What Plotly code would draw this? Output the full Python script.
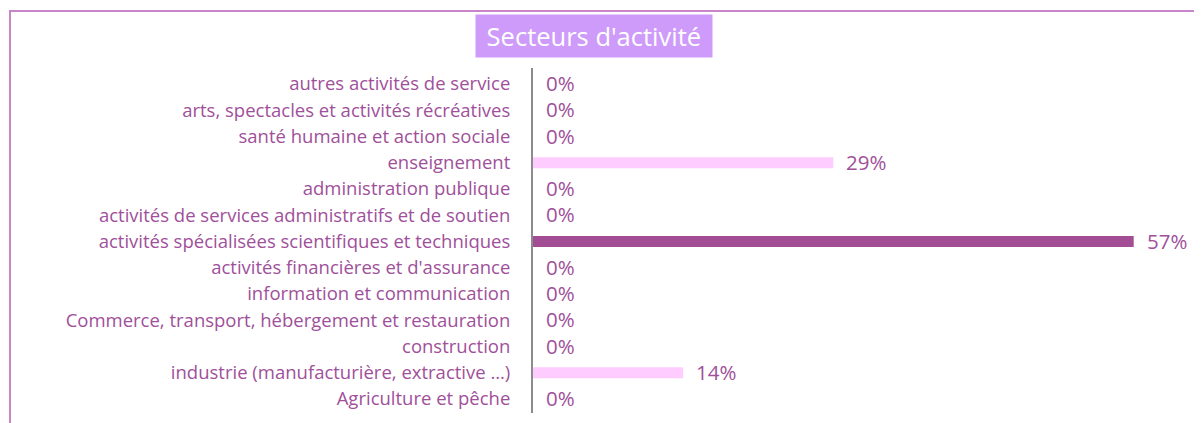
import plotly.graph_objects as go

categories = [
    "Agriculture et pêche",
    "industrie (manufacturière, extractive …)",
    "construction",
    "Commerce, transport, hébergement et restauration",
    "information et communication",
    "activités financières et d'assurance",
    "activités spécialisées scientifiques et techniques",
    "activités de services administratifs et de soutien",
    "administration publique",
    "enseignement",
    "santé humaine et action sociale",
    "arts, spectacles et activités récréatives",
    "autres activités de service",
]
values = [0, 1/7, 0, 0, 0, 0, 4/7, 0, 0, 2/7, 0, 0, 0]

PINK = "#FFCCFF"
DARK = "#A24D94"
TXT = "#A0509A"
bar_colors = [DARK if v == max(values) else PINK for v in values]

# layout geometry (figure pixels; page adds an 8px body margin)
L, T, PW, PH = 525, 60, 657, 345
B = T + PH

fig = go.Figure(go.Bar(
    y=categories, x=values, orientation="h",
    marker=dict(color=bar_colors, line=dict(width=0)),
    hoverinfo="skip",
))

for c, v in zip(categories, values):
    fig.add_annotation(
        x=v, y=c, xref="x", yref="y", text=f"{v:.0%}",
        showarrow=False, xanchor="left", yanchor="middle", xshift=12, yshift=1,
        font=dict(family="Open Sans", size=20.5, color=TXT),
        borderpad=0,
    )

# title box
fig.add_annotation(
    x=(586 - L) / PW, y=(B - 27.5) / PH, xref="paper", yref="paper",
    text="\u00a0Secteurs d'activité\u00a0", showarrow=False, xanchor="center", yanchor="middle",
    font=dict(family="Open Sans", size=25.5, color="white"),
    bgcolor="#CE9BFB", borderpad=4,
)

# outer frame
fig.add_shape(
    type="rect", xref="paper", yref="paper",
    x0=(2 - L) / PW, x1=(1187 - L) / PW,
    y0=(B - 440) / PH, y1=(B - 3) / PH,
    line=dict(color="#C985C9", width=2), fillcolor="rgba(0,0,0,0)", layer="below",
)

fig.update_layout(
    width=1202, height=423,
    margin=dict(l=L, r=1202 - L - PW, t=T, b=423 - B),
    paper_bgcolor="white", plot_bgcolor="white",
    bargap=0.58, showlegend=False,
    xaxis=dict(range=[0, 0.625], visible=False, fixedrange=True),
    yaxis=dict(
        showline=True, linecolor="#8C8C8C", linewidth=2,
        showgrid=False, zeroline=False, ticks="",
        ticklabelstandoff=17,
        tickfont=dict(family="Open Sans", size=18.5, color=TXT),
        categoryorder="array", categoryarray=categories,
    ),
    font=dict(family="Open Sans"),
)

fig.write_html("out.html")
